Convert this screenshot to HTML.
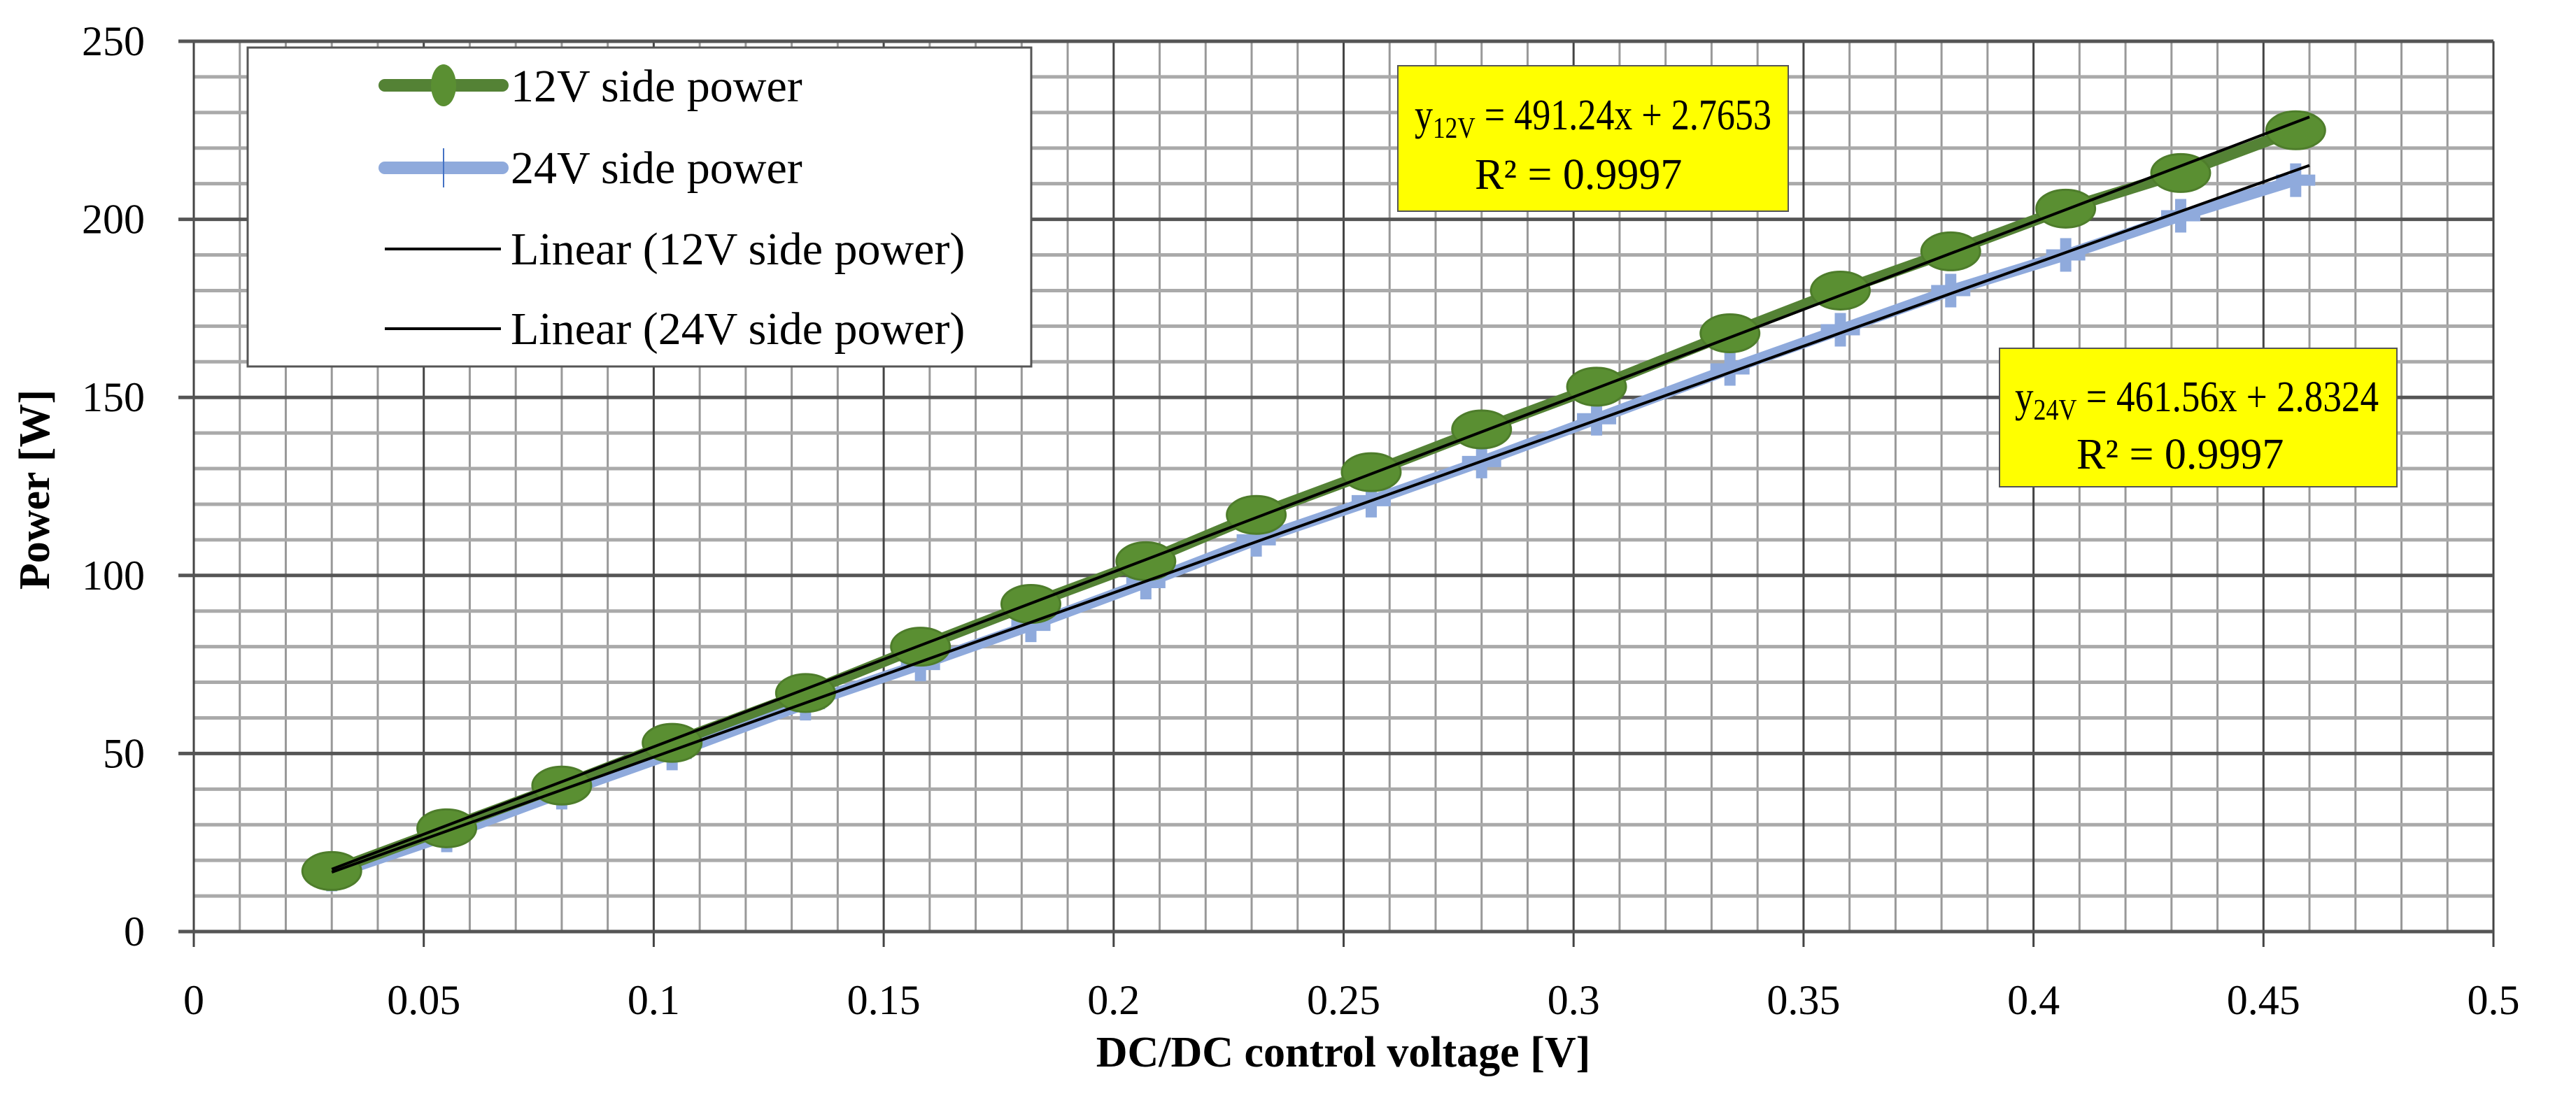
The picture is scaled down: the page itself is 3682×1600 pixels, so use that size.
<!DOCTYPE html>
<html><head><meta charset="utf-8"><style>
html,body{margin:0;padding:0;background:#fff;}
svg{display:block;font-family:"Liberation Serif",serif;}
</style></head><body>
<svg id="chart" width="3682" height="1600" viewBox="0 0 3682 1600" xmlns="http://www.w3.org/2000/svg">
<g id="grid"></g>
<g id="axes"></g>
<g id="series"></g>
<g>
  <rect x="354" y="68" width="1120" height="456" fill="#fff" stroke="#555" stroke-width="3"/>
  <line x1="550" y1="122" x2="718" y2="122" stroke="#548235" stroke-width="18" stroke-linecap="round"/>
  <ellipse cx="634" cy="122" rx="18" ry="30" fill="#5a8f32"/>
  <text x="730" y="145" font-size="66">12V side power</text>
  <line x1="550" y1="240" x2="718" y2="240" stroke="#8faadc" stroke-width="18" stroke-linecap="round"/>
  <line x1="634" y1="212" x2="634" y2="268" stroke="#4472c4" stroke-width="2"/>
  <text x="730" y="262" font-size="66">24V side power</text>
  <line x1="550" y1="356" x2="716" y2="356" stroke="#000" stroke-width="4"/>
  <text x="730" y="378" font-size="66">Linear (12V side power)</text>
  <line x1="550" y1="470" x2="716" y2="470" stroke="#000" stroke-width="4"/>
  <text x="730" y="492" font-size="66">Linear (24V side power)</text>
</g>
<g>
  <rect x="1998" y="94" width="558" height="208" fill="#ffff00" stroke="#555" stroke-width="2"/>
  <text x="2022" y="185" font-size="62" textLength="510" lengthAdjust="spacingAndGlyphs">y<tspan font-size="42" dy="12">12V</tspan><tspan dy="-12"> = 491.24x + 2.7653</tspan></text>
  <text x="2108" y="270" font-size="62">R² = 0.9997</text>
</g>
<g>
  <rect x="2858" y="498" width="568" height="198" fill="#ffff00" stroke="#555" stroke-width="2"/>
  <text x="2880" y="588" font-size="62" textLength="520" lengthAdjust="spacingAndGlyphs">y<tspan font-size="42" dy="12">24V</tspan><tspan dy="-12"> = 461.56x + 2.8324</tspan></text>
  <text x="2968" y="670" font-size="62">R² = 0.9997</text>
</g>
<text x="1920" y="1525" font-size="62" font-weight="bold" text-anchor="middle">DC/DC control voltage [V]</text>
<text transform="translate(70,700) rotate(-90)" font-size="62" font-weight="bold" text-anchor="middle">Power [W]</text>
</svg>
<script>
const xVals = [0.03,0.055,0.08,0.104,0.133,0.158,0.182,0.207,0.231,0.256,0.28,0.305,0.334,0.358,0.382,0.407,0.432,0.457];
const p12 = [17,29,41,53,67,80,92,104,117,129,141,153,168,180,191,203,213,225];
const p24 = [16,27,39,50,64,75,86,98,110,121,132,144,158,169,180,190,201,211];
const xTicks = ["0","0.05","0.1","0.15","0.2","0.25","0.3","0.35","0.4","0.45","0.5"];
const yTicks = ["0","50","100","150","200","250"];
const fit12 = [491.24, 2.7653];
const fit24 = [461.56, 2.8324];
const fitRange = [0.03, 0.46];

const X0=277, X1=3564, Y0=1332, Y1=59;
const sx = v => X0 + (v/0.5)*(X1-X0);
const sy = v => Y0 - (v/250)*(Y0-Y1);
const NS="http://www.w3.org/2000/svg";
function mk(tag, attrs, parent){const e=document.createElementNS(NS,tag);for(const k in attrs)e.setAttribute(k,attrs[k]);parent.appendChild(e);return e;}
const grid=document.getElementById('grid'), axes=document.getElementById('axes'), ser=document.getElementById('series');

for(let i=0;i<=50;i++){ if(i%5===0) continue; const x=sx(i*0.01);
  const l=mk('line',{x1:x,y1:Y1,x2:x,y2:Y0,stroke:'#999','stroke-width':3},grid);
   }
for(let i=0;i<=25;i++){ if(i%5===0) continue; const y=sy(i*10);
  const l=mk('line',{x1:X0,y1:y,x2:X1,y2:y,stroke:'#aaa','stroke-width':5},grid);
   }
xTicks.forEach(t=>{const x=sx(parseFloat(t));
  const l=mk('line',{x1:x,y1:Y1,x2:x,y2:Y0+22,stroke:'#444','stroke-width':3},axes);
   
  const tx=mk('text',{x:x,y:Y0+118,'font-size':60,'text-anchor':'middle'},axes); tx.textContent=t;
   });
yTicks.forEach(t=>{const y=sy(parseFloat(t));
  const l=mk('line',{x1:X0-22,y1:y,x2:X1,y2:y,stroke:'#555','stroke-width':5},axes);
   
  const tx=mk('text',{x:X0-70,y:y+20,'font-size':60,'text-anchor':'end'},axes); tx.textContent=t;
   });

function path(vals){return xVals.map((x,i)=>(i?'L':'M')+sx(x)+' '+sy(vals[i])).join(' ');}
let pl=mk('path',{d:path(p24),fill:'none',stroke:'#8faadc','stroke-width':16,'stroke-linejoin':'round','stroke-linecap':'round'},ser);
 
xVals.forEach((x,i)=>{const m=mk('path',{d:`M${sx(x)-28} ${sy(p24[i])} h56 M${sx(x)} ${sy(p24[i])-24} v48`,stroke:'#8faadc','stroke-width':16},ser);
   });
pl=mk('path',{d:path(p12),fill:'none',stroke:'#548235','stroke-width':16,'stroke-linejoin':'round','stroke-linecap':'round'},ser);
 
xVals.forEach((x,i)=>{const m=mk('ellipse',{cx:sx(x),cy:sy(p12[i]),rx:42,ry:27,fill:'#5a8f32',stroke:'#4e7d2b','stroke-width':3},ser);
   });
[fit12,fit24].forEach((f,k)=>{const a=fitRange[0],b=fitRange[1];
  const l=mk('line',{x1:sx(a),y1:sy(f[0]*a+f[1]),x2:sx(b),y2:sy(f[0]*b+f[1]),stroke:'#000','stroke-width':4},ser);
   });
</script>
</body></html>
